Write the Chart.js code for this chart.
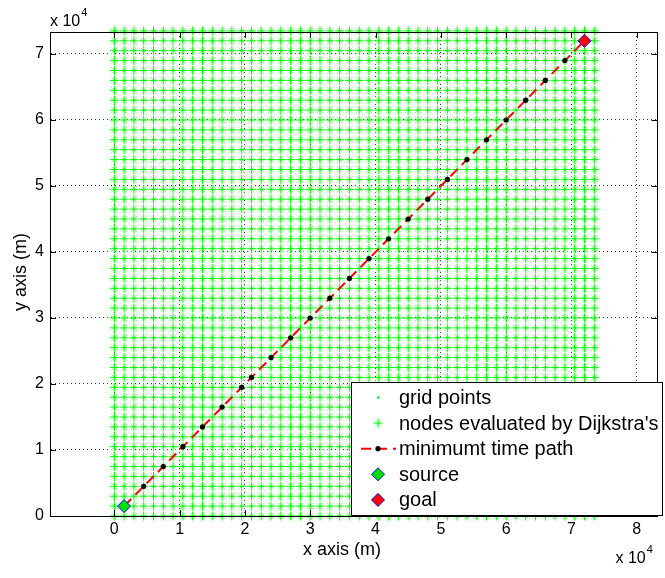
<!DOCTYPE html>
<html><head><meta charset="utf-8">
<script src="https://cdn.jsdelivr.net/npm/chart.js@4.4.1/dist/chart.umd.min.js"></script>
<style>html,body{margin:0;padding:0;background:#fff}canvas{display:block}</style>
</head><body>
<canvas id="c" width="665" height="578" style="width:665px;height:578px"></canvas>
<script>
// ---- data (metres) ----
const gridCoords = [0,1500,3000,4500,6000,7500,9000,10500,12000,13500,15000,16500,18000,19500,21000,22500,24000,25500,27000,28500,30000,31500,33000,34500,36000,37500,39000,40500,42000,43500,45000,46500,48000,49500,51000,52500,54000,55500,57000,58500,60000,61500,63000,64500,66000,67500,69000,70500,72000,73500];
const pathX = [1500,4500,7500,10500,13500,16500,19500,21000,24000,27000,30000,33000,36000,39000,42000,45000,48000,51000,54000,57000,60000,63000,66000,69000,72000];
const pathY = [1500,4500,7500,10500,13500,16500,19500,21000,24000,27000,30000,33000,36000,39000,42000,45000,48000,51000,54000,57000,60000,63000,66000,69000,72000];
const sourceXY = [1500,1500];
const goalXY = [72000,72000];
const xTickValues = [0,10000,20000,30000,40000,50000,60000,70000,80000];
const xTickLabels = ['0','1','2','3','4','5','6','7','8'];
const yTickValues = [0,10000,20000,30000,40000,50000,60000,70000];
const yTickLabels = ['0','1','2','3','4','5','6','7'];
const legendLabels = ['grid points',"nodes evaluated by Dijkstra's",'minimumt time path','source','goal'];
const xTitle = 'x axis (m)';
const yTitle = 'y axis (m)';

const gridPts = [];
gridCoords.forEach(x => gridCoords.forEach(y => gridPts.push({x, y})));
const pathPts = pathX.map((x, i) => ({x, y: pathY[i]}));

const FONT = "'Liberation Sans', Arial, Helvetica, sans-serif";
const GREEN = '#00ff00';
const LIGHTGREEN = '#90ff90';

const dsGoal = {label: legendLabels[4], data: [{x: goalXY[0], y: goalXY[1]}], pointStyle: 'rectRot', pointRadius: 6.5,
  backgroundColor: '#ff0000', borderColor: '#0000ff', pointBorderWidth: 1, showLine: false, clip: false, order: 0};
const dsSource = {label: legendLabels[3], data: [{x: sourceXY[0], y: sourceXY[1]}], pointStyle: 'rectRot', pointRadius: 6.5,
  backgroundColor: '#00e000', borderColor: '#0000ff', pointBorderWidth: 1, showLine: false, clip: false, order: 1};
const dsPath = {label: legendLabels[2], data: pathPts, showLine: true, borderColor: '#ff0000', borderWidth: 2,
  borderDash: [10, 6], pointRadius: 2.6, pointBackgroundColor: '#000', pointBorderColor: '#000', pointBorderWidth: 0,
  clip: false, order: 2};
// '*' marker: bright plus on top of a paler diagonal cross
const dsNodes = {label: legendLabels[1], data: gridPts, pointStyle: 'cross', pointRadius: 4.5, borderColor: GREEN,
  backgroundColor: 'rgba(0,0,0,0)', pointBorderWidth: 1, showLine: false, clip: false, order: 3};
const dsNodesDiag = {label: legendLabels[1] + ' ', data: gridPts, pointStyle: 'crossRot', pointRadius: 4.5, borderColor: LIGHTGREEN,
  backgroundColor: 'rgba(0,0,0,0)', pointBorderWidth: 1, showLine: false, clip: false, order: 4};
const dsGrid = {label: legendLabels[0], data: gridPts, pointStyle: 'circle', pointRadius: 1.2, backgroundColor: GREEN,
  borderColor: GREEN, pointBorderWidth: 0, showLine: false, clip: false, order: 5};

const framePlugin = {
  id: 'frame',
  afterDraw(chart) {
    const ctx = chart.ctx, a = chart.chartArea;
    const xs = chart.scales.x, ys = chart.scales.y;
    ctx.save();
    // box
    ctx.strokeStyle = '#000'; ctx.lineWidth = 1;
    ctx.strokeRect(Math.round(a.left) + 0.5, Math.round(a.top) + 0.5, Math.round(a.right - a.left) - 1, Math.round(a.bottom - a.top));
    // inward tick marks on all four sides
    const TL = 6;
    ctx.beginPath();
    xTickValues.forEach(v => {
      const px = Math.round(xs.getPixelForValue(v)) + 0.5;
      ctx.moveTo(px, a.bottom); ctx.lineTo(px, a.bottom - TL);
      ctx.moveTo(px, a.top); ctx.lineTo(px, a.top + TL);
    });
    yTickValues.forEach(v => {
      const py = Math.round(ys.getPixelForValue(v)) + 0.5;
      ctx.moveTo(a.left, py); ctx.lineTo(a.left + TL, py);
      ctx.moveTo(a.right, py); ctx.lineTo(a.right - TL, py);
    });
    ctx.stroke();
    // exponent labels
    ctx.fillStyle = '#000';
    ctx.textBaseline = 'alphabetic';
    ctx.textAlign = 'left';
    ctx.font = '16px ' + FONT;
    ctx.fillText('x 10', a.left, a.top - 6);
    const w = ctx.measureText('x 10').width;
    ctx.font = '11px ' + FONT;
    ctx.fillText('4', a.left + w + 1, a.top - 16);
    ctx.font = '16px ' + FONT;
    const bx = a.right - 42;
    ctx.fillText('x 10', bx, a.bottom + 47);
    ctx.font = '11px ' + FONT;
    ctx.fillText('4', bx + w + 1, a.bottom + 37);

    // axis titles
    ctx.font = '18px ' + FONT;
    ctx.textAlign = 'center';
    ctx.textBaseline = 'middle';
    ctx.fillText(xTitle, a.left + 292, a.bottom + 34);
    ctx.save();
    ctx.translate(21, (a.top + a.bottom) / 2 - 2);
    ctx.rotate(-Math.PI / 2);
    ctx.fillText(yTitle, 0, 0);
    ctx.restore();

    // legend
    const lx = 351, lw = 311, lh = 133;
    const ly = a.bottom - 1 - lh;
    ctx.fillStyle = '#fff';
    ctx.fillRect(lx, ly, lw, lh);
    ctx.strokeStyle = '#000'; ctx.lineWidth = 1;
    ctx.strokeRect(lx + 0.5, ly + 0.5, lw, lh);
    const mx = lx + 27, tx = lx + 48;
    const rowY = i => ly + 15.5 + i * 25.6;
    ctx.font = '20px ' + FONT;
    ctx.textAlign = 'left';
    ctx.textBaseline = 'middle';
    ctx.fillStyle = '#000';
    legendLabels.forEach((t, i) => ctx.fillText(t, tx, rowY(i) + 1));
    const H = Chart.helpers;
    // grid points
    ctx.fillStyle = GREEN;
    H.drawPoint(ctx, {pointStyle: 'circle', radius: 1.2, borderWidth: 0}, mx, rowY(0));
    // nodes
    ctx.lineWidth = 1; ctx.fillStyle = 'rgba(0,0,0,0)';
    ctx.strokeStyle = LIGHTGREEN;
    H.drawPoint(ctx, {pointStyle: 'crossRot', radius: 4.5, borderWidth: 1}, mx, rowY(1));
    ctx.strokeStyle = GREEN;
    H.drawPoint(ctx, {pointStyle: 'cross', radius: 4.5, borderWidth: 1}, mx, rowY(1));
    // path
    ctx.strokeStyle = '#ff0000'; ctx.lineWidth = 2; ctx.setLineDash([10, 6]);
    ctx.beginPath(); ctx.moveTo(lx + 10, rowY(2)); ctx.lineTo(lx + 45, rowY(2)); ctx.stroke();
    ctx.setLineDash([]);
    ctx.fillStyle = '#000';
    H.drawPoint(ctx, {pointStyle: 'circle', radius: 2.6, borderWidth: 0}, mx, rowY(2));
    // source / goal
    ctx.strokeStyle = '#0000ff'; ctx.lineWidth = 1;
    ctx.fillStyle = '#00e000';
    H.drawPoint(ctx, {pointStyle: 'rectRot', radius: 6.5, borderWidth: 1}, mx, rowY(3));
    ctx.fillStyle = '#ff0000';
    H.drawPoint(ctx, {pointStyle: 'rectRot', radius: 6.5, borderWidth: 1}, mx, rowY(4));
    ctx.restore();
  }
};

const tickFont = {family: FONT, size: 16};
new Chart(document.getElementById('c'), {
  type: 'scatter',
  data: {datasets: [dsGoal, dsSource, dsPath, dsNodes, dsNodesDiag, dsGrid]},
  options: {
    responsive: false, animation: false, devicePixelRatio: 1,
    layout: {padding: {top: 32, right: 1, left: 0, bottom: 0}},
    plugins: {legend: {display: false}, tooltip: {enabled: false}},
    scales: {
      x: {
        type: 'linear', position: 'bottom', min: -9848, max: 83180,
        afterBuildTicks: s => { s.ticks = xTickValues.map(v => ({value: v})); },
        afterFit: s => { s.height = 62; },
        grid: {color: 'rgba(40,40,40,0.9)', lineWidth: 1, drawTicks: false, tickLength: 0},
        border: {display: true, color: '#000', width: 1, dash: [1, 3]},
        ticks: {padding: 4, color: '#000', font: tickFont, maxRotation: 0, autoSkip: false,
          callback: v => xTickLabels[xTickValues.indexOf(v)]},
        title: {display: false}
      },
      y: {
        type: 'linear', position: 'left', min: 0, max: 73333,
        afterBuildTicks: s => { s.ticks = yTickValues.map(v => ({value: v})); },
        afterFit: s => { s.width = 50; },
        grid: {color: 'rgba(40,40,40,0.9)', lineWidth: 1, drawTicks: false, tickLength: 0},
        border: {display: true, color: '#000', width: 1, dash: [1, 3]},
        ticks: {padding: 6, color: '#000', font: tickFont, autoSkip: false,
          callback: v => yTickLabels[yTickValues.indexOf(v)]},
        title: {display: false}
      }
    }
  },
  plugins: [framePlugin]
});
</script>
</body></html>
